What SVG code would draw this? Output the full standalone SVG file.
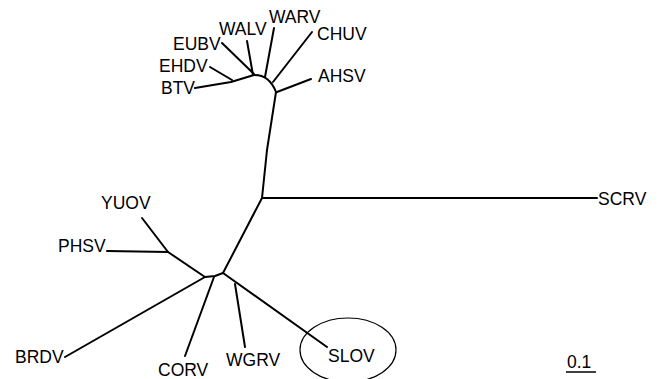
<svg xmlns="http://www.w3.org/2000/svg" width="662" height="379" viewBox="0 0 662 379">
<style>
text{font-family:"Liberation Sans",Arial,sans-serif;font-size:17.5px;fill:#000}
.br{fill:none;stroke:#000;stroke-width:2;stroke-linejoin:round;stroke-linecap:round}
.ring{fill:none;stroke:#000;stroke-width:1.2}
</style>
<rect width="662" height="379" fill="#fff"/>
<g id="connectors">
<path class="br" d="M195,88 L231,82 L254,75"/>
<path class="br" d="M210,67 L232,80"/>
<path class="br" d="M222,43 L254,74"/>
<path class="br" d="M247,41 L253,75"/>
<path class="br" d="M253,75 Q269,74 276,92"/>
<path class="br" d="M274,28 L265,77"/>
<path class="br" d="M312,32 L273,82"/>
<path class="br" d="M311,79 L277,92"/>
<path class="br" d="M276,92 L267,150 L262,198"/>
<path class="br" d="M262,198 L597,198"/>
<path class="br" d="M262,198 L223,273"/>
<path class="br" d="M223,273 L215,276 L205,277"/>
<path class="br" d="M205,277 L168,252"/>
<path class="br" d="M168,252 L142,218"/>
<path class="br" d="M168,252 L107,251"/>
<path class="br" d="M205,277 L65,357"/>
<path class="br" d="M214,277 L185,356"/>
<path class="br" d="M223,273 L327,347"/>
<path class="br" d="M235,284 L245,347"/>
</g>
<g id="WARV"><text x="269" y="23">WARV</text></g>
<g id="WALV"><text x="219" y="35">WALV</text></g>
<g id="CHUV"><text x="317" y="40">CHUV</text></g>
<g id="EUBV"><text x="173" y="50">EUBV</text></g>
<g id="EHDV"><text x="159" y="72">EHDV</text></g>
<g id="BTV"><text x="161" y="94">BTV</text></g>
<g id="AHSV"><text x="318" y="82">AHSV</text></g>
<g id="SCRV"><text x="598" y="205">SCRV</text></g>
<g id="YUOV"><text x="101" y="209">YUOV</text></g>
<g id="PHSV"><text x="58" y="252">PHSV</text></g>
<g id="BRDV"><text x="15" y="363">BRDV</text></g>
<g id="CORV"><text x="158" y="375.5">CORV</text></g>
<g id="WGRV"><text x="226" y="366">WGRV</text></g>
<g id="SLOV"><text x="328" y="362">SLOV</text><ellipse class="ring" cx="348" cy="350" rx="48" ry="32"/></g>
<g id="scale"><text x="567" y="368">0.1</text><line x1="566" y1="372" x2="596" y2="372" stroke="#000" stroke-width="1.5"/></g>
</svg>
